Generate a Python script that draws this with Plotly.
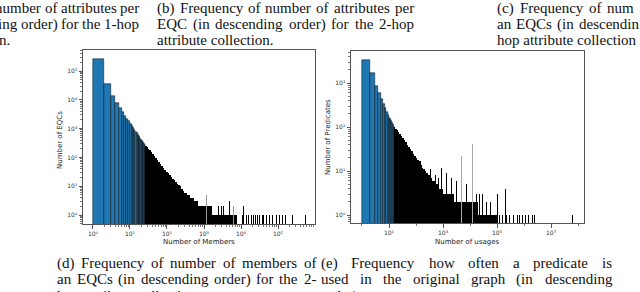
import plotly.graph_objects as go

# ---------------- data ----------------
# (d) Frequency of number of members of an EQC (unit-width bins starting at these values)
members_bins = [1, 2, 3, 4, 5, 6, 7, 8, 9, 10, 11, 12, 13, 14, 15, 16, 17, 18, 19, 20, 21, 22, 23, 24, 25]
members_counts = [270000, 36000, 14000, 8000, 5200, 3700, 2800, 2200, 1800, 1500,
                  1250, 1050, 900, 780, 690, 610, 550, 500, 450, 410, 375, 345, 318, 295, 272]
# dense tail (drawn black because the bar edges overlap), grouped bins
members_tail_edges = [26, 28, 30, 33, 36, 40, 44, 48, 53, 58, 64, 70, 77, 85, 94, 103, 113, 125,
                      137, 151, 166, 183, 201, 221, 243, 268, 294, 324, 356, 392, 431, 474, 521,
                      574, 631, 694, 764, 840, 924, 1016, 1118, 1230, 1400, 1600, 1850, 2100,
                      2400, 2800, 3300, 3900, 4600, 5500, 6500, 8000]
members_tail_counts = [255, 225, 200, 175, 150, 128, 110, 95, 82, 70, 60, 52, 44, 38, 32, 28, 24,
                       21, 18, 16, 14, 12, 11, 10, 8, 7, 6, 6, 5, 5, 4, 4, 3, 3, 3, 2, 2, 2, 2, 2,
                       2, 2, 2, 1, 1, 1, 1, 1, 1, 1, 1, 1, 1]
# isolated bins in the sparse tail
members_spike_x = [2400, 2900, 3300, 5000, 10000, 11200, 12000, 14100, 15800, 19000, 21400,
                   25100, 28200, 31600, 38000, 41700, 50100, 60300, 70800, 89100, 112000,
                   132000, 155000, 251000, 537000]
members_spike_counts = [2, 2, 2, 3, 1, 1, 2, 1, 1, 1, 1, 1, 1, 1, 1, 1, 1, 1, 1, 1, 1, 1, 1, 1, 1]
members_thin_x = [1150, 6100]
members_thin_counts = [5, 2]

# (e) Frequency how often a predicate is used
usage_bins = [1, 2, 3, 4, 5, 6, 7, 8, 9, 10, 11, 12, 13, 14]
usage_counts = [3400, 1700, 850, 600, 440, 340, 265, 215, 185, 165, 150, 135, 122, 110]
usage_tail_edges = [15, 17, 19, 21, 24, 27, 31, 35, 40, 45, 51, 58, 66, 75, 85, 97, 110, 125,
                    142, 162, 184, 209, 238, 271, 308, 350, 398, 453, 515, 586, 667, 759, 863,
                    982, 1117, 1271, 1446, 1645, 1871, 2500, 4000, 7000, 12000, 20000, 35000,
                    60000, 100000]
usage_tail_counts = [100, 92, 85, 78, 70, 63, 56, 50, 45, 40, 36, 32, 28, 25, 22, 20, 18, 16, 14,
                     12, 11, 10, 9, 8, 8, 7, 6, 6, 5, 5, 4, 4, 4, 3, 3, 3, 3, 3, 3, 2, 2, 2, 2,
                     1, 1, 1]
usage_spike_x = [140, 330, 520, 700, 890, 1380, 2100, 3200, 7600, 17800, 23000, 30000, 40000,
                 55000, 100000, 126000, 158000, 200000, 224000, 282000, 398000, 562000, 708000,
                 891000, 1120000, 1410000, 2000000, 2510000, 63000000]
usage_spike_counts = [17, 11, 8, 7, 12, 9, 7, 6, 5, 3, 3, 3, 2, 2, 3, 1, 1, 4, 1, 1, 1, 1, 1, 1,
                      1, 1, 1, 1, 1]
usage_thin_x = [4900, 12600]
usage_thin_counts = [22, 42]

d_xticks = [1, 10, 100, 1000, 10000, 100000]
d_xtext = ["10⁰", "10¹", "10²", "10³", "10⁴", "10⁵"]
d_yticks = [1, 10, 100, 1000, 10000, 100000]
d_ytext = ["10⁰", "10¹", "10²", "10³", "10⁴", "10⁵"]
e_xticks = [10, 1000, 100000, 10000000]
e_xtext = ["10¹", "10³", "10⁵", "10⁷"]
e_yticks = [1, 10, 100, 1000]
e_ytext = ["10⁰", "10¹", "10²", "10³"]

# ---------------- figure ----------------
W, H = 640, 292
BLUE = "#1f77b4"


def unit_bars(bins, counts, xa, ya, color, lw):
    return go.Bar(x=[b + 0.5 for b in bins], y=counts, width=[1] * len(bins),
                  marker=dict(color=color, line=dict(color="#0b0b0b", width=lw)),
                  xaxis=xa, yaxis=ya, hoverinfo="skip")


def edge_bars(edges, counts, xa, ya):
    xs = [(edges[i] + edges[i + 1]) / 2 for i in range(len(counts))]
    ws = [edges[i + 1] - edges[i] for i in range(len(counts))]
    return go.Bar(x=xs, y=counts, width=ws, marker=dict(color="black", line=dict(width=0)),
                  xaxis=xa, yaxis=ya, hoverinfo="skip")


fig = go.Figure()
fig.add_trace(edge_bars(members_tail_edges, members_tail_counts, "x", "y"))
fig.add_trace(unit_bars(members_spike_x, members_spike_counts, "x", "y", "black", 0))
fig.add_trace(unit_bars(members_thin_x, members_thin_counts, "x", "y", "#9a9a9a", 0))
fig.add_trace(unit_bars(members_bins, members_counts, "x", "y", BLUE, 0.5))

fig.add_trace(edge_bars(usage_tail_edges, usage_tail_counts, "x2", "y2"))
fig.add_trace(unit_bars(usage_spike_x, usage_spike_counts, "x2", "y2", "black", 0))
fig.add_trace(unit_bars(usage_thin_x, usage_thin_counts, "x2", "y2", "#a8a8a8", 0))
fig.add_trace(unit_bars(usage_bins, usage_counts, "x2", "y2", BLUE, 0.5))


def px(x):
    return x / W


def py(y):
    return 1 - y / H


def minor_vals(lo, hi, subs):
    out = []
    for d in range(lo, hi + 1):
        for s in subs:
            out.append(s * 10 ** d)
    return out


axis_common = dict(type="log", showline=True, mirror=True, linecolor="#555", linewidth=1,
                   ticks="outside", ticklen=3.5, tickwidth=0.8, tickcolor="#555",
                   showgrid=False, zeroline=False, tickmode="array",
                   tickfont=dict(family="DejaVu Sans", size=6, color="#333"))
minor_common = dict(ticks="outside", ticklen=2, tickwidth=0.6, tickcolor="#777", showgrid=False)

fig.update_layout(
    width=W, height=H, margin=dict(l=0, r=0, t=0, b=0),
    paper_bgcolor="white", plot_bgcolor="white",
    barmode="overlay", bargap=0, showlegend=False,
    xaxis=dict(axis_common, domain=[px(83), px(315)], range=[-0.27, 6.0], anchor="y",
               tickvals=d_xticks, ticktext=d_xtext,
               minor=dict(minor_common, tickmode="array", tickvals=minor_vals(0, 5, range(2, 10)))),
    yaxis=dict(axis_common, domain=[py(224), py(50)], range=[-0.31, 5.73], anchor="x",
               tickvals=d_yticks, ticktext=d_ytext,
               minor=dict(minor_common, tickmode="array", tickvals=minor_vals(-1, 5, range(2, 10)))),
    xaxis2=dict(axis_common, domain=[px(351), px(584)], range=[-0.407, 8.22], anchor="y2",
                tickvals=e_xticks, ticktext=e_xtext,
                minor=dict(minor_common, tickmode="array", tickvals=minor_vals(0, 8, [1]))),
    yaxis2=dict(axis_common, domain=[py(223), py(51)], range=[-0.18, 3.73], anchor="x2",
                tickvals=e_yticks, ticktext=e_ytext,
                minor=dict(minor_common, tickmode="array", tickvals=minor_vals(-1, 3, range(2, 10)))),
)

# axis titles
ax_font = dict(family="DejaVu Sans", size=7, color="#222")
for text, x, y, ang in [("Number of EQCs", 60, 140, -90), ("Number of Members", 199, 242, 0),
                        ("Number of Predicates", 328, 137, -90), ("Number of usages", 467, 242, 0)]:
    fig.add_annotation(text=text, x=px(x), y=py(y), xref="paper", yref="paper", showarrow=False,
                       textangle=ang, font=ax_font, xanchor="center", yanchor="middle")

# ---------------- captions ----------------
TW = {' ': 250, '(': 333, ')': 333, '.': 250, '-': 333, ',': 250,
      'a': 444, 'b': 500, 'c': 444, 'd': 500, 'e': 444, 'f': 333, 'g': 500, 'h': 500, 'i': 278,
      'j': 278, 'k': 500, 'l': 278, 'm': 778, 'n': 500, 'o': 500, 'p': 500, 'q': 500, 'r': 333,
      's': 389, 't': 278, 'u': 500, 'v': 500, 'w': 722, 'x': 500, 'y': 500, 'z': 444,
      'A': 722, 'B': 667, 'C': 667, 'D': 722, 'E': 611, 'F': 556, 'G': 722, 'H': 722, 'Q': 722,
      'S': 556}
CFS = 15
cap_font = dict(family="Liberation Serif", size=CFS, color="#111")


def tw(s):
    return sum(TW.get(c, 500) for c in s) * CFS / 1000


def place_words(words, x0, y, space):
    x = x0
    for w in words:
        fig.add_annotation(text=w, x=px(x), y=py(y), xref="paper", yref="paper",
                           showarrow=False, font=cap_font, xanchor="left", yanchor="middle",
                           borderpad=0, borderwidth=0)
        x += tw(w) + space


def cap(text, x0, y, x1=None):
    """Left-aligned line; justified between x0 and x1 when x1 is given."""
    words = text.split(" ")
    if x1 is None:
        fig.add_annotation(text=text, x=px(x0), y=py(y), xref="paper", yref="paper",
                           showarrow=False, font=cap_font, xanchor="left", yanchor="middle",
                           borderpad=0, borderwidth=0)
        return
    total = sum(tw(w) for w in words)
    place_words(words, x0, y, (x1 - x0 - total) / (len(words) - 1))


def cap_spaced(text, y, space, x0=None, x1=None):
    """Line with a fixed stretched word space, anchored at its left or its right end."""
    words = text.split(" ")
    width = sum(tw(w) for w in words) + space * (len(words) - 1)
    place_words(words, x0 if x0 is not None else x1 - width, y, space)


cap_spaced("number of attributes per", 8, 3.5, x1=139)
cap_spaced("ing order) for the 1-hop", 24, 3.5, x1=139)
cap("n.", -1, 40)
cap("(b) Frequency of number of attributes per", 157, 8, 414)
cap("EQC (in descending order) for the 2-hop", 157, 24, 414)
cap("attribute collection.", 157, 40)
cap_spaced("(c) Frequency of num", 8, 6, x0=497)
cap_spaced("an EQCs (in descendin", 24, 5, x0=497)
cap("hop attribute collection", 497, 40)

cap("(d) Frequency of number of members of", 57, 263, 316)
cap("an EQCs (in descending order) for the 2-", 57, 279, 316)
cap("hop attribute collection.", 57, 296)
cap("(e) Frequency how often a predicate is", 321, 263, 612)
cap("used in the original graph (in descending", 321, 279, 612)
cap("order).", 321, 296)

fig.write_html("out.html", config={"displayModeBar": False},
               post_script="document.body.style.margin='0';document.body.style.overflow='hidden';")
